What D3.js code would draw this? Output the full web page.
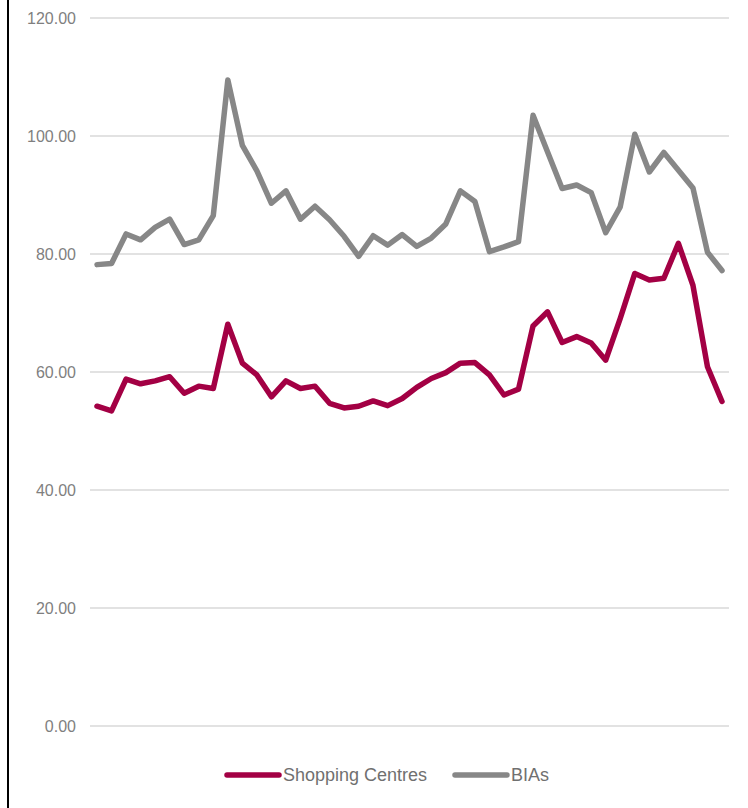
<!DOCTYPE html>
<html>
<head>
<meta charset="utf-8">
<script src="https://cdn.jsdelivr.net/npm/d3@7"></script>
<style>
  html, body { margin: 0; padding: 0; background: #fff; }
  svg { display: block; }
</style>
</head>
<body>
<svg id="chart" width="748" height="808"></svg>
<script>
const periods = d3.range(1, 45);
const shoppingCentres = [54.2, 53.4, 58.8, 58.0, 58.5, 59.2, 56.4, 57.6, 57.2, 68.1,
  61.5, 59.5, 55.8, 58.5, 57.2, 57.6, 54.7, 53.9, 54.2, 55.1,
  54.3, 55.5, 57.4, 58.9, 59.9, 61.5, 61.6, 59.5, 56.1, 57.1,
  67.8, 70.2, 65.0, 66.0, 64.9, 62.0, 69.1, 76.7, 75.6, 75.9,
  81.8, 74.7, 60.9, 55.0];
const bias = [78.2, 78.4, 83.4, 82.4, 84.5, 85.9, 81.6, 82.4, 86.5, 109.5,
  98.4, 94.1, 88.6, 90.7, 85.9, 88.1, 85.8, 83.0, 79.6, 83.1,
  81.5, 83.3, 81.3, 82.7, 85.1, 90.7, 88.9, 80.4, 81.2, 82.1,
  103.5, 97.3, 91.1, 91.7, 90.4, 83.6, 88.0, 100.3, 93.9, 97.2,
  94.2, 91.2, 80.3, 77.2];
const yTicks = [0, 20, 40, 60, 80, 100, 120];
const seriesNames = ["Shopping Centres", "BIAs"];
const seriesColors = ["#A30044", "#878787"];

const svg = d3.select("#chart");

// left border
svg.append("line")
  .attr("x1", 8).attr("x2", 8).attr("y1", 0).attr("y2", 808)
  .attr("stroke", "#000").attr("stroke-width", 2);

const x = d3.scalePoint().domain(periods).range([97, 722]);
const y = d3.scaleLinear().domain([0, 120]).range([726, 18]);

const grid = svg.append("g");
grid.selectAll("line").data(yTicks).join("line")
  .attr("x1", 90).attr("x2", 729)
  .attr("y1", d => y(d)).attr("y2", d => y(d))
  .attr("stroke", "#d9d9d9").attr("stroke-width", 1.5);

const yAxis = d3.axisLeft(y).tickValues(yTicks).tickFormat(d3.format(".2f")).tickSize(0).tickPadding(0);
const ag = svg.append("g").attr("transform", "translate(76,0)").call(yAxis);
ag.select(".domain").remove();
ag.selectAll("text")
  .attr("fill", "#7f7f7f")
  .style("font-family", "'Liberation Sans', Arial, sans-serif")
  .style("font-size", "16px");

const line = d3.line().x((d, i) => x(periods[i])).y(d => y(d));
[shoppingCentres, bias].forEach((s, k) => {
  svg.append("path").datum(s)
    .attr("d", line)
    .attr("fill", "none")
    .attr("stroke", seriesColors[k])
    .attr("stroke-width", 5.5)
    .attr("stroke-linejoin", "round")
    .attr("stroke-linecap", "round");
});

// legend
const legendX = [227, 455];
seriesNames.forEach((name, k) => {
  const g = svg.append("g").attr("transform", `translate(${legendX[k]},775)`);
  g.append("line").attr("x1", 0).attr("x2", 52).attr("y1", 0).attr("y2", 0)
    .attr("stroke", seriesColors[k]).attr("stroke-width", 5.5).attr("stroke-linecap", "round");
  g.append("text").attr("x", 56).attr("y", 0).attr("dy", "0.35em")
    .attr("fill", "#707070")
    .style("font-family", "'Liberation Sans', Arial, sans-serif")
    .style("font-size", "18px")
    .text(name);
});
</script>
</body>
</html>
